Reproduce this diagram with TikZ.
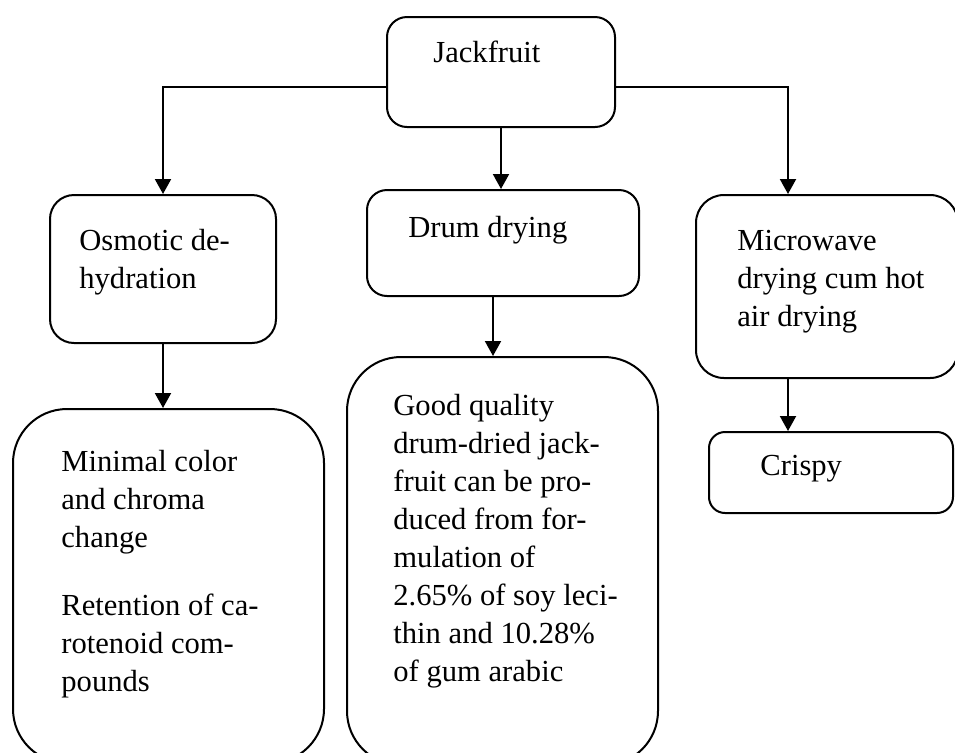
\documentclass[tikz,border=0pt]{standalone}
\usepackage{fontspec}
\setmainfont{Liberation Serif}
\usetikzlibrary{arrows.meta,calc}

\begin{document}
\begin{tikzpicture}[x=0.5pt,y=-0.5pt,
  box/.style={draw,line width=1pt,inner sep=0pt},
  % multi-line labels are anchored at the baseline of their last line
  label/.style={anchor=base west,inner sep=0pt,align=left,
    font=\fontsize{15.3pt}{19pt}\selectfont},
  arr/.style={line width=1pt,-{Triangle[length=7.5pt,width=8pt]}}]
  \useasboundingbox (0,0) rectangle (955,752);
  \clip (0,0) rectangle (955,752);

  % boxes
  \node[box,rounded corners=10pt,minimum width=114pt,minimum height=55pt] (jack) at (501,72) {};
  \node[box,rounded corners=12pt,minimum width=113pt,minimum height=74pt] (osm) at (163,269) {};
  \node[box,rounded corners=10pt,minimum width=136pt,minimum height=53pt] (drum) at (503,243) {};
  \node[box,rounded corners=14pt,minimum width=131pt,minimum height=91.5pt] (micro) at (827,286.5) {};
  \node[box,rounded corners=27pt,minimum width=155.5pt,minimum height=177pt] (minimal) at (168.5,586) {};
  \node[box,rounded corners=27pt,minimum width=155.5pt,minimum height=204pt] (good) at (502.5,561) {};
  \node[box,rounded corners=8pt,minimum width=122pt,minimum height=40.5pt] (crispy) at (831,472.5) {};

  % texts
  \node[label] (tjack) at (433,62) {Jackfruit};
  \node[label] (tosm) at (79,288) {Osmotic de-\\hydration};
  \node[label] (tdrum) at (408,237) {Drum drying};
  \node[label] (tmicro) at (737,326) {Microwave\\drying cum hot\\air drying};
  \node[label] (tminimal) at (61,691) {Minimal color\\and chroma\\change\\[14.75pt]Retention of ca-\\rotenoid com-\\pounds};
  \node[label] (tgood) at (393,681) {Good quality\\drum-dried jack-\\fruit can be pro-\\duced from for-\\mulation of\\2.65\% of soy leci-\\thin and 10.28\%\\of gum arabic};
  \node[label] (tcrispy) at (760,475) {Crispy};

  % connectors
  \coordinate (tap) at ($(jack.north west)!0.63!(jack.south west)$);
  \coordinate (mtop) at ($(micro.north west)+(93,0)$);
  \coordinate (mbot) at ($(micro.south west)+(93,0)$);
  \coordinate (dbot) at ($(drum.south)+(-10,0)$);
  \draw[arr] (tap) -| (osm.north);
  \draw[arr] (tap -| jack.east) -| (mtop);
  \draw[arr] (jack.south) -- (jack.south |- drum.north);
  \draw[arr] (dbot) -- (dbot |- good.north);
  \draw[arr] (osm.south) -- (osm.south |- minimal.north);
  \draw[arr] (mbot) -- (mbot |- crispy.north);
\end{tikzpicture}
\end{document}
